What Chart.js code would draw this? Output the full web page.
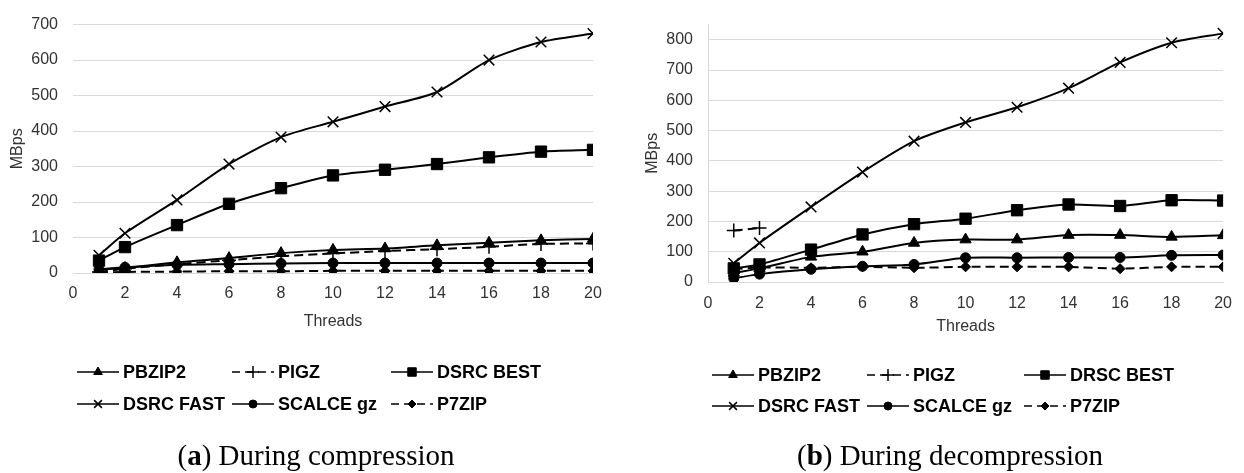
<!DOCTYPE html>
<html>
<head>
<meta charset="utf-8">
<script src="https://cdn.jsdelivr.net/npm/chart.js@4.4.1/dist/chart.umd.min.js"></script>
<style>
  html, body { margin: 0; padding: 0; background: #ffffff; }
  #wrap { position: relative; width: 1244px; height: 473px; overflow: hidden; }
  .panel { position: absolute; top: 0; height: 473px; }
</style>
</head>
<body>
<div id="wrap">
  <div class="panel" style="left:0;width:620px"><canvas id="comp" width="620" height="473"></canvas></div>
  <div class="panel" style="left:620px;width:624px"><canvas id="decomp" width="624" height="473"></canvas></div>
</div>
<script>
// Thread counts on the x axis
const threads = [1, 2, 4, 6, 8, 10, 12, 14, 16, 18, 20];

// Throughput during compression (MBps)
const compPBZIP2   = [10, 14, 30, 42, 56, 65, 69, 78, 85, 92, 96];
const compPIGZ     = [3, 12, 25, 36, 47, 55, 62, 67, 74, 82, 83];
const compDSRCBest = [35, 73, 135, 195, 239, 275, 291, 307, 326, 342, 347];
const compDSRCFast = [50, 112, 206, 307, 383, 426, 469, 510, 600, 651, 675];
const compSCALCE   = [10, 16, 23, 25, 27, 28, 28, 28, 28, 28, 28];
const compP7ZIP    = [1, 3, 4, 5, 5, 6, 6, 6, 6, 6, 6];

// Throughput during decompression (MBps)
const decPBZIP2   = [30, 45, 83, 100, 129, 140, 140, 155, 155, 149, 154];
const decPIGZ     = [170, 178, null, null, null, null, null, null, null, null, null];
const decDRSCBest = [45, 58, 107, 157, 191, 209, 237, 256, 251, 270, 269];
const decDSRCFast = [62, 129, 248, 363, 465, 527, 577, 640, 725, 790, 821];
const decSCALCE   = [12, 26, 42, 52, 58, 80, 80, 81, 81, 88, 89];
const decP7ZIP    = [42, 48, 47, 50, 47, 50, 50, 50, 44, 50, 50];

// Axis ticks
const xTicks = { min: 0, max: 20, step: 2 };
const compYTicks = { min: 0, max: 700, step: 100 };
const decYTicks = { min: 0, max: 800, step: 100, top: 850 };

// Series names as drawn in each legend
const compNames = ['PBZIP2', 'PIGZ', 'DSRC BEST', 'DSRC FAST', 'SCALCE gz', 'P7ZIP'];
const decNames  = ['PBZIP2', 'PIGZ', 'DRSC BEST', 'DSRC FAST', 'SCALCE gz', 'P7ZIP'];

// Marker look for each series, in legend order
const seriesStyle = [
  { point: 'triangle', r: 6.5, lr: 5, bw: 1, dashed: false },
  { point: 'cross', r: 7, lr: 6, bw: 1.5, dashed: true },
  { point: 'rect', r: 8, lr: 6, bw: 1, dashed: false },
  { point: 'crossRot', r: 7.5, lr: 5.5, bw: 1.5, dashed: false },
  { point: 'circle', r: 5, lr: 4, bw: 1, dashed: false },
  { point: 'rectRot', r: 5, lr: 4, bw: 1, dashed: true }
];

const DASH = [9, 5];
const GRID = '#d9d9d9';
const TXT = '#333333';

function toPoints(values) {
  return threads.map((t, i) => ({ x: t, y: values[i] }));
}

function makeDatasets(names, series) {
  return series.map((vals, i) => {
    const s = seriesStyle[i];
    return {
      label: names[i],
      data: toPoints(vals),
      borderColor: '#000',
      backgroundColor: '#000',
      borderWidth: 2,
      borderDash: s.dashed ? DASH : [],
      pointStyle: s.point,
      pointRadius: s.r,
      pointBorderWidth: s.bw,
      pointBorderColor: '#000',
      pointBackgroundColor: '#000',
      tension: 0.25,
      fill: false,
      spanGaps: false
    };
  });
}

// Legend rows and caption under each plot
function footerPlugin(cfg) {
  return {
    id: 'footer_' + cfg.key,
    afterDraw(chart) {
      const ctx = chart.ctx;
      ctx.save();
      cfg.names.forEach((name, i) => {
        const s = seriesStyle[i];
        const col = i % 3, row = Math.floor(i / 3);
        const x0 = cfg.cols[col], y = cfg.rows[row];
        ctx.strokeStyle = '#000';
        ctx.lineWidth = 1.6;
        ctx.setLineDash(s.dashed ? [8, 5] : []);
        ctx.beginPath();
        ctx.moveTo(x0, y);
        ctx.lineTo(x0 + 42, y);
        ctx.stroke();
        ctx.setLineDash([]);
        ctx.fillStyle = '#000';
        ctx.lineWidth = s.bw;
        Chart.helpers.drawPoint(ctx, { pointStyle: s.point, radius: s.lr, borderWidth: s.bw }, x0 + 21, y);
        ctx.font = 'bold 18px "Liberation Sans", Arial, sans-serif';
        ctx.textAlign = 'left';
        ctx.textBaseline = 'middle';
        ctx.fillStyle = '#000';
        ctx.fillText(name, x0 + 46, y + 1);
      });
      // caption: "(x) text" with the panel letter in bold
      const serif = '"Liberation Serif", "Times New Roman", serif';
      const parts = [
        { t: '(', f: '29px ' + serif },
        { t: cfg.letter, f: 'bold 29px ' + serif },
        { t: ') ' + cfg.caption, f: '29px ' + serif }
      ];
      let total = 0;
      parts.forEach(p => { ctx.font = p.f; p.w = ctx.measureText(p.t).width; total += p.w; });
      let x = cfg.captionX - total / 2;
      ctx.textBaseline = 'alphabetic';
      ctx.fillStyle = '#000';
      parts.forEach(p => { ctx.font = p.f; ctx.fillText(p.t, x, cfg.captionY); x += p.w; });
      ctx.restore();
    }
  };
}

function makeChart(canvasId, opts) {
  const tickFont = { family: '"Liberation Sans", Arial, sans-serif', size: 16 };
  return new Chart(document.getElementById(canvasId), {
    type: 'line',
    data: { datasets: makeDatasets(opts.names, opts.series) },
    options: {
      responsive: false,
      devicePixelRatio: 1,
      animation: false,
      events: [],
      layout: { padding: { top: opts.padTop, right: opts.padRight, left: 0, bottom: 0 } },
      plugins: { legend: { display: false }, tooltip: { enabled: false } },
      scales: {
        x: {
          type: 'linear',
          min: xTicks.min,
          max: xTicks.max,
          ticks: { stepSize: xTicks.step, color: TXT, font: tickFont, padding: opts.xTickPad, maxRotation: 0 },
          grid: { display: false, drawTicks: false },
          border: { display: true, color: GRID, width: 1 },
          title: { display: true, text: 'Threads', color: TXT, font: tickFont, padding: { top: 4, bottom: opts.xTitleBottom } },
          afterFit(scale) { scale.height = opts.xHeight; }
        },
        y: {
          min: opts.yTicks.min,
          max: opts.yTicks.top || opts.yTicks.max,
          ticks: { stepSize: opts.yTicks.step, color: TXT, font: tickFont, padding: 15 },
          afterBuildTicks(scale) {
            const list = [];
            for (let v = opts.yTicks.min; v <= opts.yTicks.max; v += opts.yTicks.step) list.push({ value: v });
            scale.ticks = list;
          },
          grid: { color: GRID, lineWidth: 1, drawTicks: false },
          border: { display: opts.yBorder, color: GRID, width: 1 },
          title: { display: true, text: 'MBps', color: TXT, font: tickFont, padding: { top: opts.yTitlePad, bottom: 0 } },
          afterFit(scale) { scale.width = opts.yWidth; }
        }
      }
    },
    plugins: [footerPlugin(opts.footer)]
  });
}

makeChart('comp', {
  names: compNames,
  series: [compPBZIP2, compPIGZ, compDSRCBest, compDSRCFast, compSCALCE, compP7ZIP],
  yTicks: compYTicks,
  padTop: 15, padRight: 27,
  yWidth: 73, yTitlePad: 8, yBorder: false,
  xHeight: 200, xTickPad: 11, xTitleBottom: 142,
  footer: { key: 'a', names: compNames, cols: [77, 232, 391], rows: [372, 404], letter: 'a', caption: 'During compression', captionX: 316, captionY: 465 }
});

makeChart('decomp', {
  names: decNames,
  series: [decPBZIP2, decPIGZ, decDRSCBest, decDSRCFast, decSCALCE, decP7ZIP],
  yTicks: decYTicks,
  padTop: 24, padRight: 16,
  yWidth: 88, yTitlePad: 23, yBorder: true,
  xHeight: 191, xTickPad: 12, xTitleBottom: 137,
  footer: { key: 'b', names: decNames, cols: [92, 247, 404], rows: [375, 406], letter: 'b', caption: 'During decompression', captionX: 330, captionY: 465 }
});
</script>
</body>
</html>
